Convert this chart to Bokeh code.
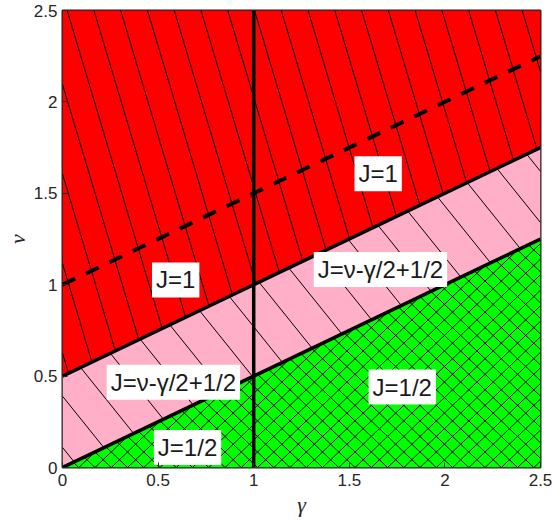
import numpy as np
from bokeh.plotting import figure
from bokeh.models import Range1d, FixedTicker
from bokeh.core.properties import value
from bokeh.embed import file_html
from bokeh.resources import INLINE

# ---- data ----
gamma_edges = [0.0, 2.5]
nu_low = [0.0, 1.25]      # nu = gamma/2
nu_high = [0.5, 1.75]     # nu = gamma/2 + 1/2
nu_dash = [1.0, 2.25]     # dashed line
gamma_split = 1.0
nu_bottom = 0.0
nu_top = 2.5
ticks = [0, 0.5, 1, 1.5, 2, 2.5]
tick_labels = ["0", "0.5", "1", "1.5", "2", "2.5"]

label_text = ["J=1", "J=\u03bd-\u03b3/2+1/2", "J=1/2", "J=1", "J=\u03bd-\u03b3/2+1/2", "J=1/2"]
label_gamma = [0.592, 0.58, 0.654, 1.651, 1.663, 1.777]
label_nu = [1.026, 0.467, 0.109, 1.607, 1.083, 0.44]

# ---- regions (convex polygons, CCW) ----
g0, g1 = gamma_edges
green_poly = [(g0, nu_low[0]), (g1, nu_bottom), (g1, nu_low[1])]
pink_poly = [(g0, nu_low[0]), (g1, nu_low[1]), (g1, nu_high[1]), (g0, nu_high[0])]
red_poly = [(g0, nu_high[0]), (g1, nu_high[1]), (g1, nu_top), (g0, nu_top)]


def clip(poly, p0, d):
    t_in, t_out = -1e9, 1e9
    n = len(poly)
    for i in range(n):
        ax, ay = poly[i]
        bx, by = poly[(i + 1) % n]
        nx, ny = (by - ay), -(bx - ax)
        num = nx * (ax - p0[0]) + ny * (ay - p0[1])
        den = nx * d[0] + ny * d[1]
        if abs(den) < 1e-12:
            if num < 0:
                return None
            continue
        t = num / den
        if den > 0:
            t_out = min(t_out, t)
        else:
            t_in = max(t_in, t)
    if t_in >= t_out:
        return None
    return ([p0[0] + t_in * d[0], p0[0] + t_out * d[0]],
            [p0[1] + t_in * d[1], p0[1] + t_out * d[1]])


def hatch(poly, slope, c0, step, n):
    xs, ys = [], []
    d = (1.0, slope)
    for k in range(-n, n):
        c = c0 + step * k
        seg = clip(poly, (0.0, c), d)
        if seg:
            xs.append(seg[0]); ys.append(seg[1])
    return xs, ys


p = figure(width=553, height=523, output_backend="svg", toolbar_location=None,
           x_range=Range1d(0, 2.5), y_range=Range1d(0, 2.5),
           min_border_left=62, min_border_right=13, min_border_top=10, min_border_bottom=56)

p.patch([q[0] for q in red_poly], [q[1] for q in red_poly], fill_color="#FF0000", line_color=None)
p.patch([q[0] for q in pink_poly], [q[1] for q in pink_poly], fill_color="#FFB0C8", line_color=None)
p.patch([q[0] for q in green_poly], [q[1] for q in green_poly], fill_color="#00FF00", line_color=None)

hx, hy = hatch(red_poly, -3.5, 0.136, 0.49, 40)
p.multi_line(hx, hy, line_color="black", line_width=1)
hx, hy = hatch(pink_poly, -1.3, 0.39, 0.28, 40)
p.multi_line(hx, hy, line_color="black", line_width=1)
hx, hy = hatch(green_poly, 1.0, 0.0, 0.085, 70)
p.multi_line(hx, hy, line_color="black", line_width=1)
hx, hy = hatch(green_poly, -1.0, 0.0, 0.085, 70)
p.multi_line(hx, hy, line_color="black", line_width=1)

p.line(gamma_edges, nu_low, line_color="black", line_width=3.5)
p.line(gamma_edges, nu_high, line_color="black", line_width=3.5)
p.line(gamma_edges, nu_dash, line_color="black", line_width=4, line_dash="14 12")
p.line([gamma_split, gamma_split], [nu_bottom, nu_top], line_color="black", line_width=3.5)

p.text(label_gamma, label_nu, text=label_text, text_align="center", text_baseline="middle",
       text_font=value("Liberation Sans"), text_font_size="24px", text_color="#1a1a1a",
       background_fill_color="white", padding=4)

p.grid.visible = False
p.outline_line_color = "#222222"
p.outline_line_width = 2
for ax in (p.xaxis[0], p.yaxis[0]):
    ax.ticker = FixedTicker(ticks=ticks)
    ax.major_label_overrides = {t: l for t, l in zip(ticks, tick_labels)}
    ax.major_label_text_font = "Liberation Sans"
    ax.major_label_text_font_size = "17px"
    ax.major_label_text_color = "#262626"
    ax.axis_line_color = None
    ax.major_tick_in = 5
    ax.major_tick_out = 0
    ax.major_tick_line_color = "#262626"
    ax.minor_tick_line_color = None
    ax.axis_label_text_font = "Liberation Serif"
    ax.axis_label_text_font_style = "italic"
    ax.axis_label_text_font_size = "22px"
    ax.axis_label_text_color = "#262626"
p.xaxis.axis_label = "\u03b3"
p.yaxis.axis_label = "\u03bd"
p.xaxis.major_label_standoff = 6
p.yaxis.major_label_standoff = 5
p.xaxis.axis_label_standoff = 3
p.yaxis.axis_label_standoff = 1

open("out.html", "w").write(file_html(p, INLINE))
